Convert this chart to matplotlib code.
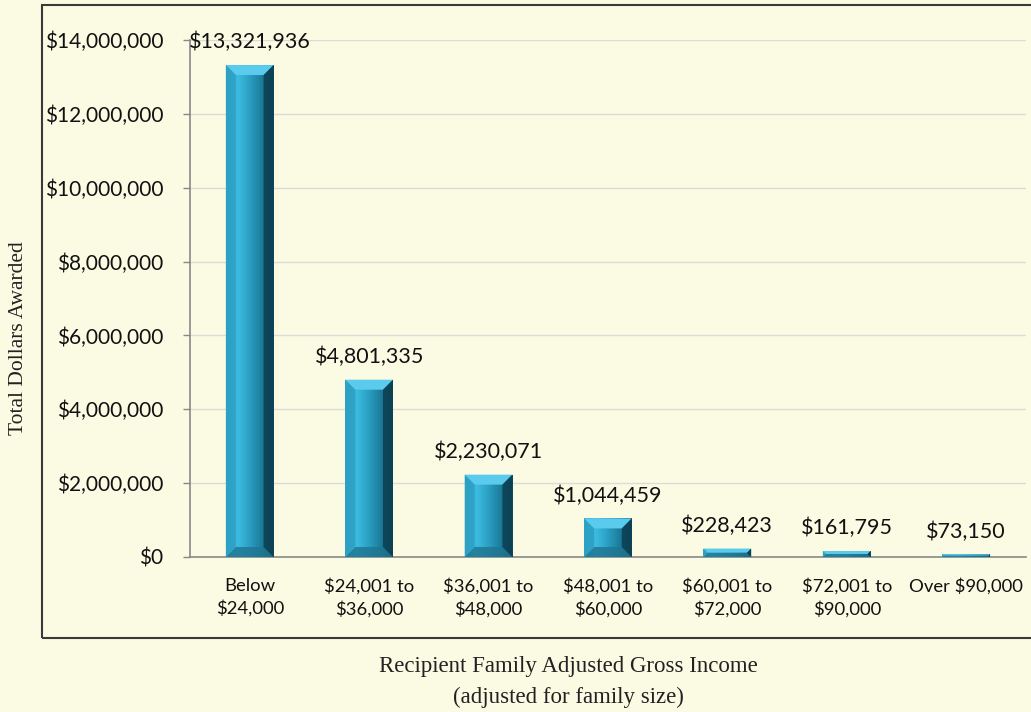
import matplotlib.pyplot as plt
import numpy as np
from matplotlib.patches import Rectangle, Polygon
from matplotlib.colors import LinearSegmentedColormap
from matplotlib.ticker import FuncFormatter

# data
categories = ['Below\n$24,000', '$24,001 to\n$36,000', '$36,001 to\n$48,000',
              '$48,001 to\n$60,000', '$60,001 to\n$72,000', '$72,001 to\n$90,000',
              'Over $90,000']
dollars = [13321936, 4801335, 2230071, 1044459, 228423, 161795, 73150]
yticks = [0, 2000000, 4000000, 6000000, 8000000, 10000000, 12000000, 14000000]

bg = '#fbfae3'
sans = ['Lato', 'DejaVu Sans']
serif = ['Liberation Serif', 'DejaVu Serif']

fig = plt.figure(figsize=(10.31, 7.12), dpi=100)
fig.patch.set_facecolor(bg)

# outer chart frame
fig.patches.append(Rectangle((0.041, 0.104), 1.0, 0.889, transform=fig.transFigure,
                             fill=False, edgecolor='#3a3a3a', linewidth=1.5))

ax = fig.add_axes([0.1843, 0.2177, 0.8107, 0.7261])
ax.set_facecolor(bg)

x = np.arange(len(categories))
w = 0.4
ax.set_xlim(-0.5, len(categories) - 0.5)
ax.set_ylim(0, 14000000)

grad = LinearSegmentedColormap.from_list('bar', ['#33a9cc', '#3cbbe0', '#2a9ec2', '#1c7d9b', '#0f4d62'])
bars = ax.bar(x, dollars, width=w, color='#2ea6c9', zorder=2)

# pixel -> data size of the bevel
px_x = 1.0 / 119.5
px_y = 14000000 / 517.0
for b, v in zip(bars, dollars):
    x0 = b.get_x()
    x1 = x0 + b.get_width()
    img = ax.imshow(np.linspace(0, 1, 64).reshape(1, -1), cmap=grad, aspect='auto',
                    extent=(x0, x1, 0, v), zorder=3)
    img.set_clip_path(b)
    by = min(10 * px_y, v / 2)
    bx = min(10 * px_x, by / px_y * px_x)
    # top bevel
    ax.add_patch(Polygon([(x0, v), (x1, v), (x1 - bx, v - by), (x0 + bx, v - by)],
                         closed=True, facecolor='#5acbec', edgecolor='none', zorder=4))
    # bottom bevel
    ax.add_patch(Polygon([(x0, 0), (x1, 0), (x1 - bx, by), (x0 + bx, by)],
                         closed=True, facecolor='#1f7590', edgecolor='none', alpha=0.8, zorder=4))
    # right side
    ax.add_patch(Polygon([(x1, 0), (x1, v), (x1 - bx, v - by), (x1 - bx, by)],
                         closed=True, facecolor='#0c3f52', edgecolor='none', alpha=0.85, zorder=4))
    # left side
    ax.add_patch(Polygon([(x0, 0), (x0, v), (x0 + bx, v - by), (x0 + bx, by)],
                         closed=True, facecolor='#2c9fc2', edgecolor='none', alpha=0.8, zorder=4))
    ax.annotate('${:,}'.format(v), (b.get_x() + b.get_width() / 2, v),
                xytext=(0, 9), textcoords='offset points', ha='center', va='bottom',
                fontsize=15.5, family=sans, color='#111111', zorder=5)

ax.set_yticks(yticks)
ax.yaxis.set_major_formatter(FuncFormatter(lambda v, p: '${:,.0f}'.format(v)))
ax.set_xticks(x)
ax.set_xticklabels(categories, linespacing=1.45)
ax.tick_params(axis='x', length=0, pad=15, labelsize=13.3, colors='#111111')
ax.tick_params(axis='y', length=5, width=1, color='#888888', pad=14, labelsize=15, labelcolor='#111111')
for lab in ax.get_xticklabels() + ax.get_yticklabels():
    lab.set_family(sans)

ax.grid(axis='y', color='#d9ddd6', linewidth=1, zorder=0)
ax.set_axisbelow(True)
for s in ['top', 'right']:
    ax.spines[s].set_visible(False)
ax.spines['left'].set_color('#888888')
ax.spines['bottom'].set_color('#888888')
ax.spines['left'].set_linewidth(1.2)
ax.spines['bottom'].set_linewidth(1.2)

fig.text(0.018, 0.525, 'Total Dollars Awarded', rotation=90, ha='center', va='center',
         fontsize=15.5, family=serif, color='#222222')
fig.text(0.551, 0.042, 'Recipient Family Adjusted Gross Income\n(adjusted for family size)',
         ha='center', va='center', fontsize=16.5, family=serif, color='#222222', linespacing=1.65)

fig.savefig('out.png', dpi=100, facecolor=bg)
